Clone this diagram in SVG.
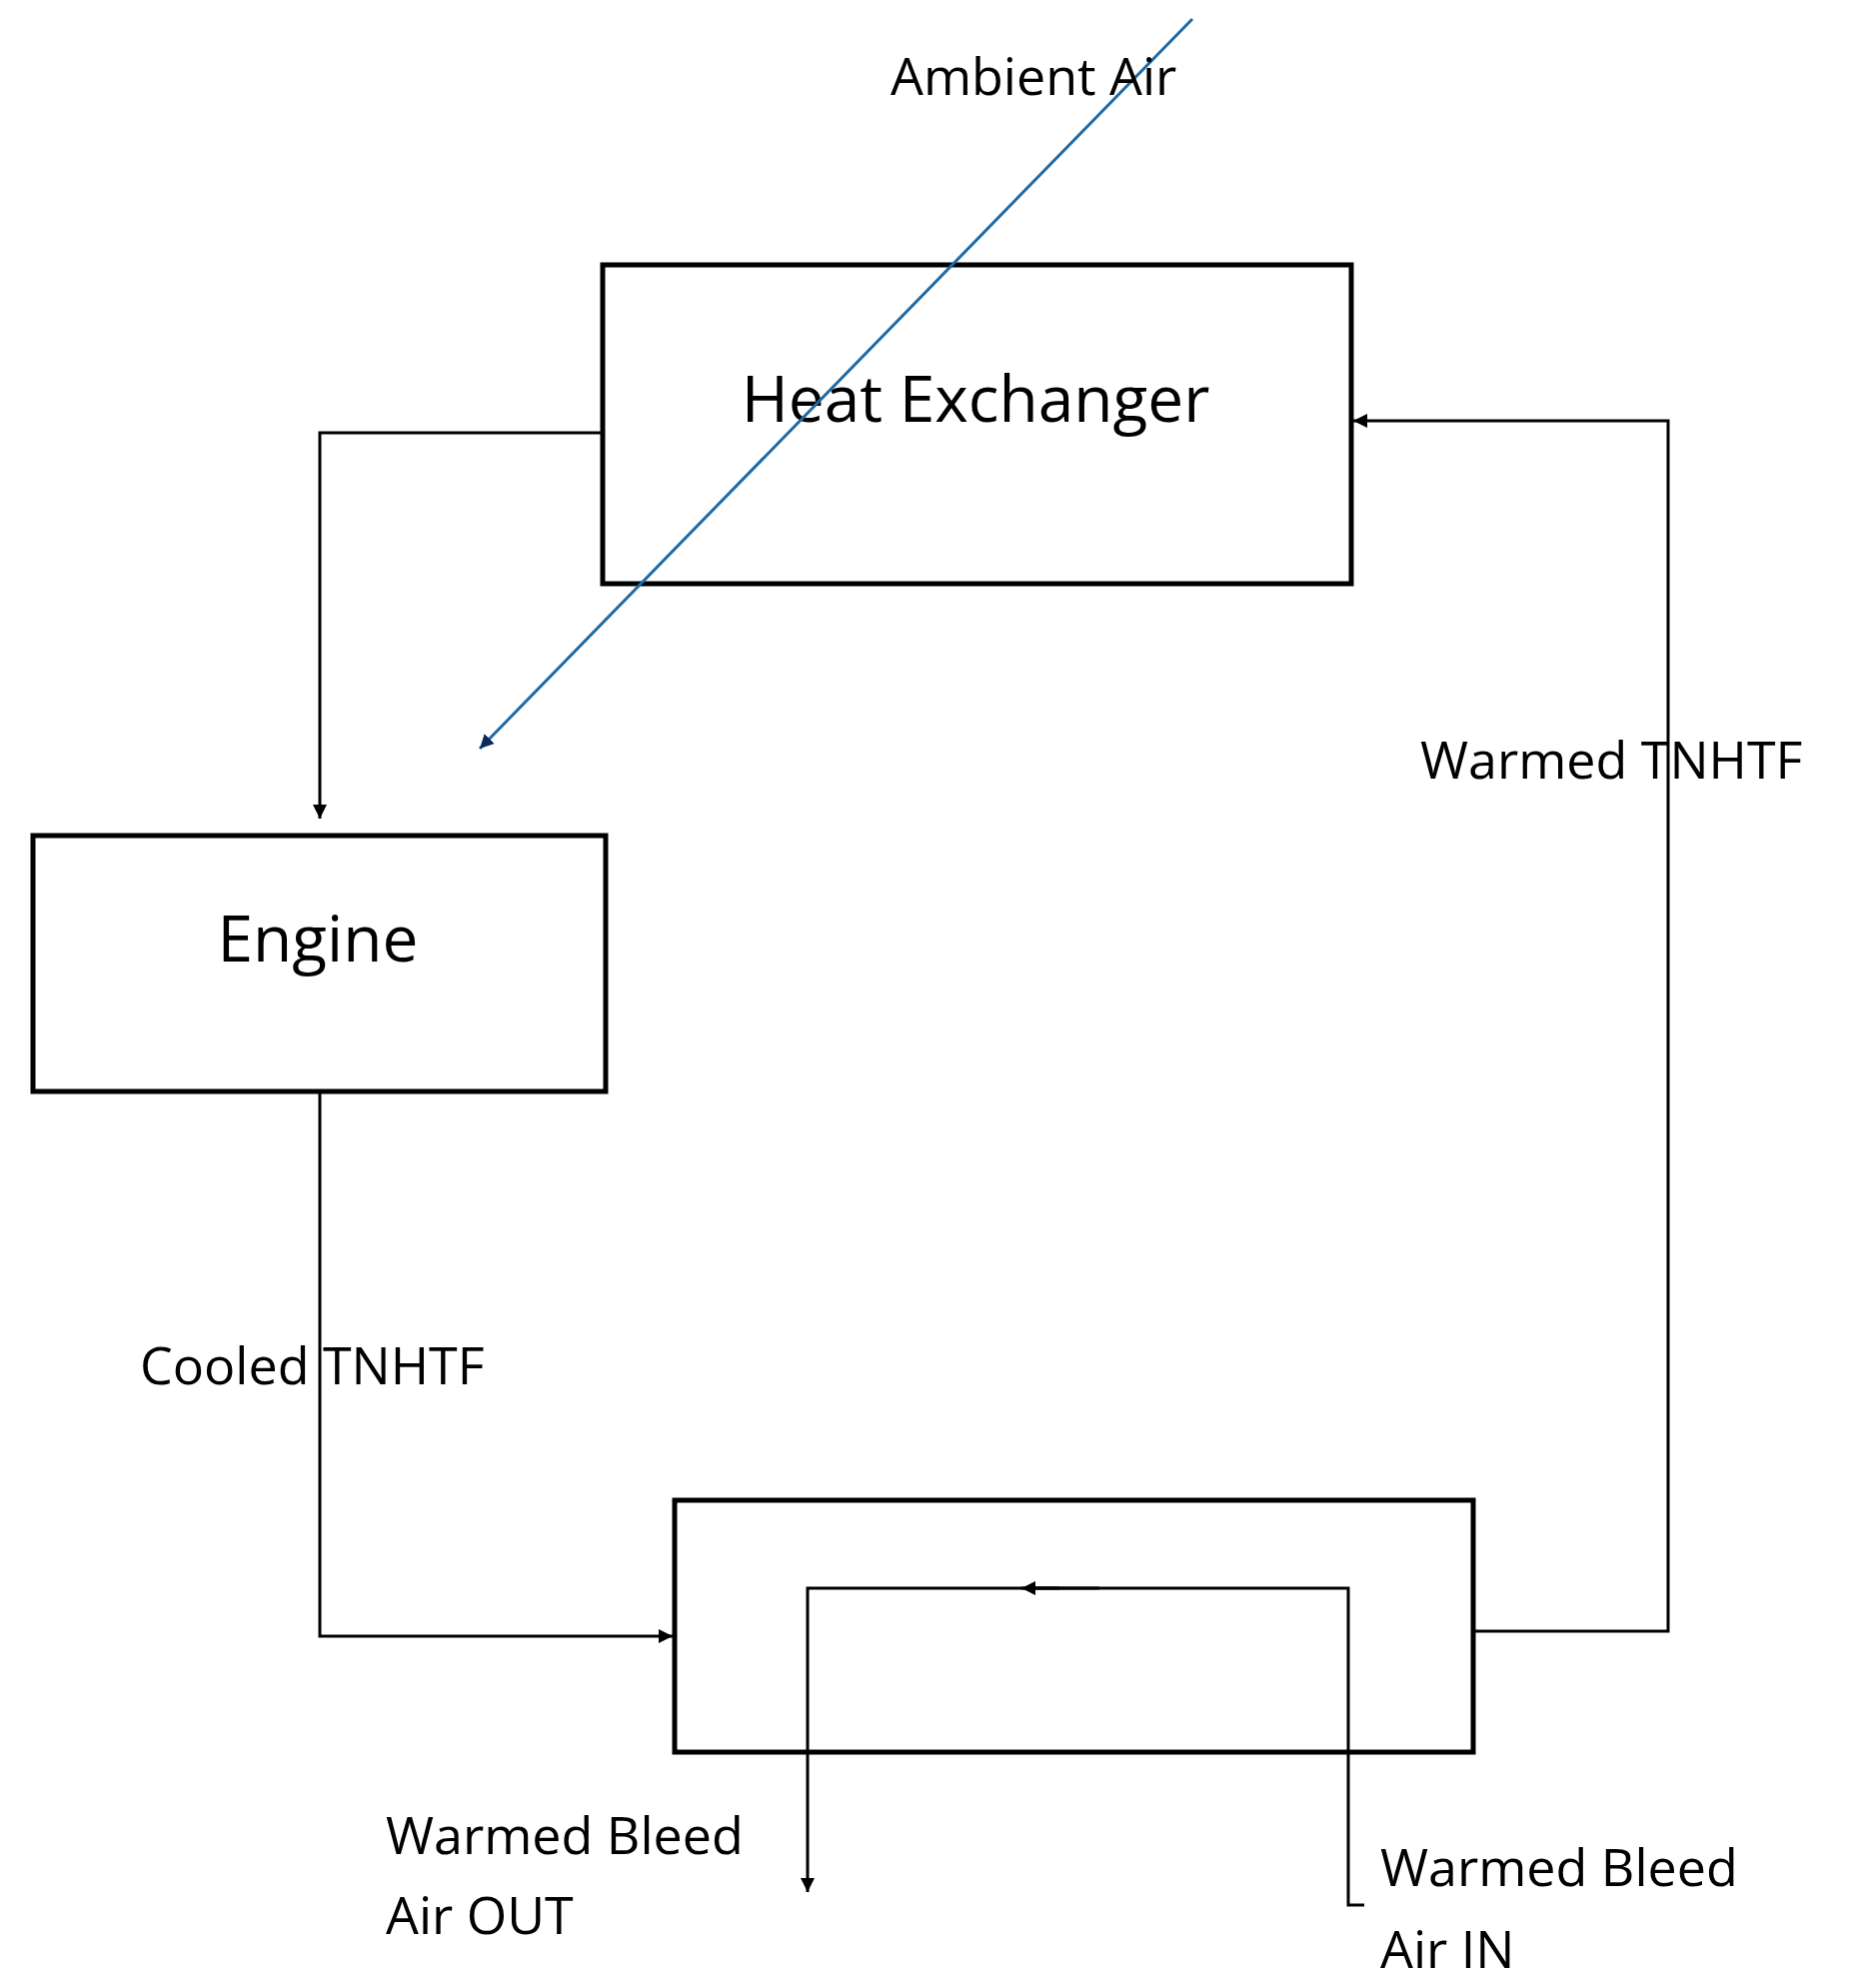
<svg xmlns="http://www.w3.org/2000/svg" width="1866" height="1989" viewBox="0 0 1866 1989">
<style>
.box{fill:#fff;stroke:#000;stroke-width:5}
.c{fill:none;stroke:#000;stroke-width:3}
text{font-family:"Open Sans","Liberation Sans",sans-serif;fill:#000}
.t{font-size:52px}
.n{font-size:64px;text-anchor:middle}
</style>
<defs>
<marker id="a" viewBox="0 0 10 10" refX="10" refY="5" markerWidth="14" markerHeight="14" markerUnits="userSpaceOnUse" orient="auto"><path d="M0,0L10,5L0,10z" fill="#000"/></marker>
<marker id="ab" viewBox="0 0 10 10" refX="10" refY="5" markerWidth="14" markerHeight="14" markerUnits="userSpaceOnUse" orient="auto"><path d="M0,0L10,5L0,10z" fill="#0b2a5a"/></marker>
</defs>
<g id="he"><rect class="box" x="603" y="265" width="749" height="319"/><text class="n" x="976" y="422">Heat Exchanger</text></g>
<g id="engine"><rect class="box" x="33" y="836" width="573" height="256"/><text class="n" x="318" y="962">Engine</text></g>
<g id="hx2"><rect class="box" x="675" y="1501" width="799" height="252"/></g>
<g id="connectors">
<path class="c" d="M603,433H320V819" marker-end="url(#a)" style="stroke-width:3"/>
<path d="M1193,19L480,749" fill="none" stroke="#1f6aa5" stroke-width="3" marker-end="url(#ab)"/>
<path class="c" d="M1474,1632H1669V421H1354" marker-end="url(#a)"/>
<path class="c" d="M320,1092V1637H673" marker-end="url(#a)"/>
<path class="c" d="M1365,1906H1349V1589H1025"/>
<path class="c" d="M1060,1589H808V1893" marker-end="url(#a)"/>
<path class="c" d="M1100,1589H1022" marker-end="url(#a)"/>
</g>
<g id="labels">
<text class="t" x="891" y="95">Ambient Air</text>
<text class="t" x="1421" y="779">Warmed TNHTF</text>
<text class="t" x="140" y="1385">Cooled TNHTF</text>
<text class="t" x="386" y="1855">Warmed Bleed</text>
<text class="t" x="386" y="1935">Air OUT</text>
<text class="t" x="1381" y="1887">Warmed Bleed</text>
<text class="t" x="1381" y="1969">Air IN</text>
</g>
</svg>
